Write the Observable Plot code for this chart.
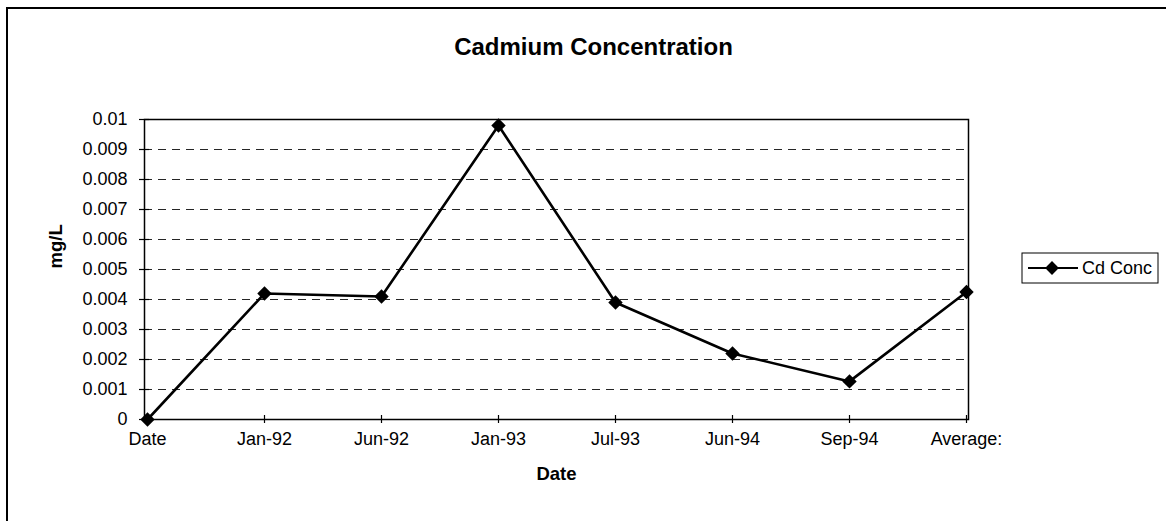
<!DOCTYPE html>
<html>
<head>
<meta charset="utf-8">
<script src="https://cdn.jsdelivr.net/npm/d3@7"></script>
<script src="https://cdn.jsdelivr.net/npm/@observablehq/plot@0.6"></script>
<style>
  html, body { margin: 0; padding: 0; background: #fff; }
</style>
</head>
<body>
<div id="chart"></div>
<script>
// ---- data ----
const categories = ["Date", "Jan-92", "Jun-92", "Jan-93", "Jul-93", "Jun-94", "Sep-94", "Average:"];
const cdConc = [0, 0.0042, 0.0041, 0.0098, 0.0039, 0.0022, 0.00127, 0.00425];
const yTicks = [0, 0.001, 0.002, 0.003, 0.004, 0.005, 0.006, 0.007, 0.008, 0.009, 0.01];
const yTickLabels = ["0", "0.001", "0.002", "0.003", "0.004", "0.005", "0.006", "0.007", "0.008", "0.009", "0.01"];
const chartTitle = "Cadmium Concentration";
const xTitle = "Date";
const yTitle = "mg/L";
const seriesName = "Cd Conc";

const data = categories.map((c, i) => ({cat: c, v: cdConc[i]}));
const font = "'Liberation Sans', Arial, Helvetica, sans-serif";

const chart = Plot.plot({
  width: 1166,
  height: 521,
  marginLeft: 144,
  marginRight: 198,
  marginTop: 119,
  marginBottom: 102,
  style: {fontFamily: font, fontSize: "18px", color: "#000", background: "#fff"},
  x: {type: "point", domain: categories, padding: 0},
  y: {domain: [0, 0.01]},
  marks: [
    Plot.gridY(yTicks.slice(1, -1), {stroke: "#000", strokeOpacity: 0.85, strokeWidth: 1, strokeDasharray: "8,6"}),
    Plot.frame({stroke: "#000", strokeWidth: 1.5}),
    Plot.axisY(yTicks, {tickSize: 5, tickPadding: 12, tickFormat: (d, i) => yTickLabels[i], label: null, strokeWidth: 1.2}),
    Plot.axisY(yTicks, {tickSize: -5, tickFormat: () => "", label: null, strokeWidth: 1.2}),
    Plot.axisX({tickSize: 4, tickPadding: 9, label: null, strokeWidth: 1.2}),
    Plot.axisX({tickSize: -4, tickFormat: () => "", label: null, strokeWidth: 1.2}),
    Plot.line(data, {x: "cat", y: "v", stroke: "#000", strokeWidth: 2.6}),
    Plot.dot(data, {x: "cat", y: "v", symbol: "diamond2", r: 6.5, fill: "#000", stroke: "none"}),
    Plot.text([chartTitle], {text: d => d, frameAnchor: "top", dx: 37, dy: -82, fontSize: 24, fontWeight: "bold"}),
    Plot.text([xTitle], {text: d => d, frameAnchor: "bottom", dy: 60, fontSize: 18.5, fontWeight: "bold"}),
    Plot.text([yTitle], {text: d => d, frameAnchor: "left", rotate: -90, dx: -88, dy: -1, fontSize: 18.5, fontWeight: "bold"})
  ]
});

document.getElementById("chart").appendChild(chart);

// ---- outer chart border & legend ----
const svg = d3.select(chart);
svg.append("rect")
  .attr("x", 7).attr("y", 8).attr("width", 1200).attr("height", 600)
  .attr("fill", "none").attr("stroke", "#000").attr("stroke-width", 2);

const lg = svg.append("g").attr("font-family", font).attr("text-anchor", "start");
lg.append("rect")
  .attr("x", 1022).attr("y", 253).attr("width", 136).attr("height", 30)
  .attr("fill", "#fff").attr("stroke", "#000").attr("stroke-width", 1);
lg.append("line")
  .attr("x1", 1028).attr("x2", 1078).attr("y1", 268).attr("y2", 268)
  .attr("stroke", "#000").attr("stroke-width", 2);
lg.append("path")
  .attr("transform", "translate(1052,268)")
  .attr("d", d3.symbol(d3.symbolDiamond2, Math.PI * 6.2 * 6.2)())
  .attr("fill", "#000");
lg.append("text")
  .attr("x", 1082).attr("y", 268).attr("dy", "0.35em")
  .attr("font-size", 18).attr("fill", "#000").attr("text-anchor", "start")
  .text(seriesName);
</script>
</body>
</html>
